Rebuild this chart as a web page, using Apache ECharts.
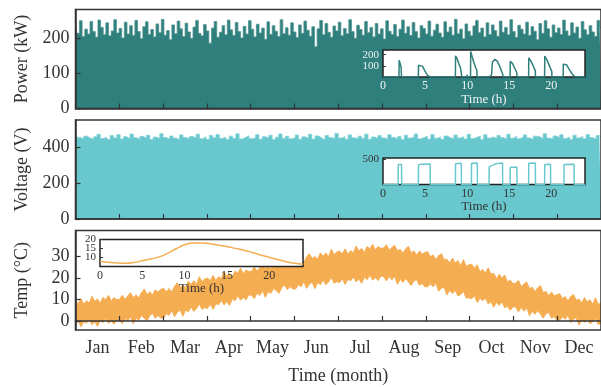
<!DOCTYPE html>
<html>
<head>
<meta charset="utf-8">
<script src="https://cdn.jsdelivr.net/npm/echarts@6/dist/echarts.min.js"></script>
<style>
  html, body { margin: 0; padding: 0; background: #fff; }
  #chart { width: 601px; height: 387px; }
</style>
</head>
<body>
<div id="chart"></div>
<script>
// ---- data -------------------------------------------------------------
const months = ['Jan','Feb','Mar','Apr','May','Jun','Jul','Aug','Sep','Oct','Nov','Dec'];

// yearly charging power, peak per sample (kW)
const powerKw = [
  238,214,250,205,226,212,248,219,203,252,231,210,244,207,221,253,215,228,201,246,
  212,236,208,251,219,199,233,247,211,225,204,241,216,254,209,222,196,238,213,249,
  227,205,243,218,200,232,251,214,207,239,221,186,229,248,203,217,236,210,252,224,
  208,245,219,201,234,212,250,226,204,240,215,229,197,247,211,236,220,205,253,213,
  230,209,244,218,202,238,214,249,223,206,233,176,227,251,210,242,217,203,235,221,
  246,207,228,213,253,219,200,237,225,209,248,216,231,204,242,212,227,198,250,220,
  211,239,205,226,252,214,233,208,245,219,201,236,228,212,249,206,223,240,215,203,
  247,218,232,209,254,213,226,199,241,220,207,235,251,216,229,204,244,211,238,222,
  206,249,217,231,210,253,219,202,237,226,212,246,208,233,220,196,242,214,250,227,
  203,238,216,229,211,252,221,207,244,215,232,200,248,224,210,236,218,205,251,230
];

// yearly charging voltage, peak per sample (V)
const voltageV = [
  468,455,447,462,451,444,458,472,449,456,443,465,452,470,446,459,448,474,453,445,
  461,450,467,443,457,449,476,454,446,463,451,442,469,455,448,460,452,473,447,458,
  444,466,453,471,449,457,443,462,450,475,446,455,464,448,452,470,445,459,451,467,
  443,456,474,449,461,447,453,468,444,458,450,472,446,463,452,441,466,454,448,477,
  451,459,445,469,453,447,462,450,473,444,457,449,465,452,446,470,455,448,460,443,
  467,451,456,474,447,454,461,445,471,450,458,444,463,453,447,468,452,459,446,472,
  449,455,464,443,470,451,457,448,466,454,445,473,450,461,447,456,469,452,444,462,
  458,448,475,451,446,463,453,470,449,457,444,467,452,460,447,471,454,445,465,456
];

// ambient temperature, upper swing per sample (°C), 16 samples a month
const tempHigh = [
  9.3,8.0,10.3,7.7,9.3,8.3,11.4,9.0,10.2,8.2,10.9,9.8,11.9,9.2,10.8,9.8,
  10.0,11.9,9.9,11.6,13.1,10.8,12.1,10.7,13.2,14.8,12.1,13.5,12.0,14.4,13.3,14.6,
  15.1,13.4,15.0,13.4,16.1,17.6,15.5,16.5,15.4,18.4,16.9,18.6,17.0,20.5,18.1,19.5,
  19.8,18.7,21.1,18.7,20.5,19.6,22.9,20.7,22.0,20.2,23.1,22.1,24.4,21.9,23.6,22.8,
  23.0,25.0,23.0,24.8,26.4,24.2,25.5,24.2,26.8,28.5,25.9,27.3,25.9,28.4,27.4,28.7,
  29.1,27.3,28.8,27.1,29.7,31.1,28.9,29.8,28.6,31.5,29.9,31.5,29.8,33.2,30.7,32.0,
  32.3,31.1,33.4,30.9,32.5,31.5,34.7,32.4,33.6,31.7,34.5,33.4,35.5,32.9,34.5,33.6,
  33.8,35.3,32.8,34.0,35.1,32.4,33.2,31.4,33.4,34.6,31.5,32.4,30.5,32.4,30.9,31.7,
  32.1,29.7,30.6,28.3,30.3,31.1,28.3,28.6,26.8,29.1,26.9,27.9,25.6,28.4,25.3,26.0,
  26.3,24.4,26.0,22.8,23.8,22.1,24.6,21.6,22.1,19.5,21.6,19.8,21.3,18.0,18.9,17.3,
  17.5,18.8,16.0,17.1,18.0,15.0,15.6,13.6,15.4,16.4,13.1,13.7,11.6,13.4,11.6,12.2,
  12.6,10.4,11.3,9.2,11.4,12.2,9.6,10.1,8.3,10.8,8.8,9.8,7.7,10.7,7.6,8.5
];

// ambient temperature, lower swing per sample (°C), 16 samples a month
const tempLow = [
  -1.7,0.1,-2.7,-0.3,-1.0,0.6,-1.7,-0.3,-2.5,0.4,-0.8,1.3,-1.1,0.0,-1.5,0.6,
  0.4,-1.3,1.2,-0.1,2.1,-1.3,1.3,0.4,2.5,1.3,0.0,2.5,3.5,1.3,2.5,1.3,
  1.3,3.4,2.6,5.0,2.0,4.0,5.1,2.2,5.1,4.2,6.5,4.4,5.8,7.9,5.4,6.2,
  5.8,7.8,5.4,8.0,7.5,9.5,7.4,9.0,7.2,10.3,9.3,11.8,9.6,10.9,9.8,12.1,
  11.9,10.3,13.0,11.8,14.1,10.9,13.6,12.8,15.1,14.0,12.8,15.5,16.6,14.5,15.9,14.8,
  14.8,16.8,15.9,18.2,15.1,17.0,18.0,15.0,17.8,16.8,19.0,16.8,18.1,20.1,17.5,18.2,
  17.8,19.6,16.9,19.3,18.6,20.4,18.1,19.5,17.4,20.3,19.1,21.3,18.9,20.1,18.7,20.8,
  20.6,18.5,20.7,19.0,20.8,17.0,19.2,17.9,19.7,18.1,16.4,18.6,19.1,16.5,17.4,15.8,
  15.8,17.2,15.8,17.5,13.8,15.2,15.6,12.0,14.3,12.7,14.3,11.6,12.3,13.7,10.6,10.7,
  10.3,11.7,8.5,10.5,9.4,10.6,7.9,8.9,6.3,8.8,7.2,8.9,6.1,6.8,4.9,6.6,
  6.4,4.2,6.3,4.5,6.2,2.4,4.5,3.1,4.8,3.1,1.3,3.4,3.9,1.2,2.0,0.3,
  0.3,1.9,0.8,2.7,-0.8,0.9,1.5,-1.9,0.7,-0.7,1.1,-1.3,-0.4,1.2,-1.6,-1.3
];

// one day of charging sessions: [hour, kW]
const dayPowerKw = [
  [0,0],[1.9,0],[1.92,150],[2.05,140],[2.15,90],[2.2,0],
  [4.2,0],[4.22,105],[4.45,112],[4.7,95],[5.0,50],[5.3,15],[5.6,0],
  [8.6,0],[8.62,190],[8.8,165],[9.0,120],[9.2,85],[9.35,75],[9.37,0],
  [9.95,0],[10.0,18],[10.05,0],
  [10.4,0],[10.42,228],[10.6,180],[10.8,130],[11.0,85],[11.15,60],[11.17,0],
  [12.6,0],[12.62,15],[12.9,20],[13.0,135],[13.3,158],[13.6,140],[13.9,90],[14.2,30],[14.3,0],
  [15.1,0],[15.12,140],[15.4,120],[15.7,70],[15.9,40],[15.92,0],
  [17.3,0],[17.32,172],[17.6,140],[17.9,90],[18.1,55],[18.12,0],
  [19.2,0],[19.22,188],[19.5,150],[19.8,95],[20.05,50],[20.07,0],
  [21.4,0],[21.42,115],[21.8,110],[22.1,70],[22.5,25],[22.8,5],[24,0]
];

// one day of charging voltage: [hour, V]
const dayVoltageV = [
  [0,0],[1.8,0],[1.82,395],[2.2,395],[2.22,0],
  [4.2,0],[4.22,390],[4.5,402],[5.6,405],[5.62,0],
  [8.6,0],[8.62,410],[9.3,420],[9.32,0],
  [10.5,0],[10.52,420],[11.2,427],[11.22,0],
  [12.6,0],[12.62,350],[13.4,410],[14.2,427],[14.22,0],
  [15.1,0],[15.12,335],[15.9,345],[15.92,0],
  [17.3,0],[17.32,420],[18.1,427],[18.12,0],
  [19.2,0],[19.22,395],[19.9,402],[19.92,0],
  [21.5,0],[21.52,395],[22.7,402],[22.72,0],[24,0]
];

// one day of ambient temperature: [hour, °C]
const dayTempC = [
  [0,7.6],[1,7.2],[2,6.8],[3,6.6],[4,7.0],[5,8.0],[6,9.0],[7,10.2],[8,12.2],
  [9,14.8],[10,17.0],[11,18.1],[12,18.1],[13,17.6],[14,16.8],[15,16.0],[16,15.0],
  [17,14.0],[18,12.7],[19,11.3],[20,10.0],[21,8.7],[22,7.5],[23,6.6],[24,6.1]
];

// ---- styling ----------------------------------------------------------
const FONT = "'Liberation Serif', 'Times New Roman', serif";
const INK = '#333333';
const TEAL = '#2f7f7c';
const CYAN = '#68c8ce';
const ORANGE = '#f5ad52';

// sample positions along the month axis (0..12)
const onYear = (arr) => arr.map((v, i) => [i * 12 / (arr.length - 1), v]);

const monthTicks = [1,2,3,4,5,6,7,8,9,10,11];
const monthMid = months.map((m, i) => i + 0.5);

function mainX(gridIndex, withLabels) {
  return {
    type: 'value', gridIndex, min: 0, max: 12, z: 4,
    axisLine: { show: true, lineStyle: { color: INK, width: 1.5 } },
    axisTick: { show: true, inside: true, length: 5, customValues: monthTicks,
                lineStyle: { color: INK, width: 1.2 } },
    splitLine: { show: false },
    axisLabel: withLabels ? {
      show: true, customValues: monthMid, margin: 9,
      fontFamily: FONT, fontSize: 18, color: INK,
      formatter: (v) => months[Math.round(v - 0.5)]
    } : { show: false },
    name: withLabels ? 'Time (month)' : '',
    nameLocation: 'middle', nameGap: 37,
    nameTextStyle: { fontFamily: FONT, fontSize: 18, color: INK }
  };
}

function mainY(gridIndex, name, min, max, ticks) {
  return {
    type: 'value', gridIndex, min, max, z: 4,
    axisLine: { show: true, lineStyle: { color: INK, width: 1.5 } },
    axisTick: { show: true, inside: true, length: 5, customValues: ticks,
                lineStyle: { color: INK, width: 1.2 } },
    splitLine: { show: false },
    axisLabel: { customValues: ticks, margin: 6, fontFamily: FONT, fontSize: 18, color: INK },
    name, nameLocation: 'middle', nameGap: 44, nameRotate: 90,
    nameTextStyle: { fontFamily: FONT, fontSize: 18, color: INK }
  };
}

function insetX(gridIndex, color) {
  return {
    type: 'value', gridIndex, min: 0, max: 24, z: 7,
    axisLine: { show: false },
    axisTick: { show: false },
    splitLine: { show: false },
    axisLabel: { customValues: [0,5,10,15,20], margin: 3, fontFamily: FONT, fontSize: 12, color },
    name: 'Time (h)', nameLocation: 'middle', nameGap: 14,
    nameTextStyle: { fontFamily: FONT, fontSize: 13, color }
  };
}

function insetY(gridIndex, min, max, ticks, color) {
  return {
    type: 'value', gridIndex, min, max, z: 7,
    axisLine: { show: false },
    axisTick: { show: true, inside: true, length: 3, customValues: ticks,
                lineStyle: { color: INK, width: 1 } },
    splitLine: { show: false },
    axisLabel: { customValues: ticks, margin: 4, fontFamily: FONT, fontSize: 11, color,
                 lineHeight: 7, hideOverlap: false, showMinLabel: true, showMaxLabel: true }
  };
}

const mainGrid = (top, height) => ({
  left: 75.5, top, width: 527, height, z: 3, show: true,
  backgroundColor: 'transparent', borderColor: INK, borderWidth: 1.5
});
const insetGrid = (left, top, width, height) => ({
  left, top, width, height, z: 5, show: true,
  backgroundColor: '#ffffff', borderColor: '#222', borderWidth: 1.5
});

const option = {
  animation: false,
  backgroundColor: '#ffffff',
  textStyle: { fontFamily: FONT },
  grid: [
    mainGrid(9.5, 99),
    mainGrid(120, 99),
    mainGrid(230.5, 99.5),
    insetGrid(383, 50, 202, 27),
    insetGrid(383, 158, 202, 26.5),
    insetGrid(100, 239.5, 203, 27)
  ],
  xAxis: [
    mainX(0, false), mainX(1, false), mainX(2, true),
    insetX(3, '#eef5f4'), insetX(4, INK), insetX(5, INK)
  ],
  yAxis: [
    mainY(0, 'Power (kW)', 0, 282, [0,100,200]),
    mainY(1, 'Voltage (V)', 0, 552, [0,200,400]),
    mainY(2, 'Temp (°C)', -4.2, 41.9, [0,10,20,30]),
    insetY(3, 0, 242, [100,200], '#eef5f4'),
    insetY(4, 0, 526, [500], INK),
    insetY(5, 4.8, 20, [10,20], INK),
    // middle label of the temperature inset sits on its own axis so it is not dropped
    Object.assign(insetY(5, 4.8, 20, [15], INK), { position: 'left', offset: 0 })
  ],
  series: [
    {
      type: 'line', xAxisIndex: 0, yAxisIndex: 0, z: 1,
      data: onYear(powerKw), symbol: 'none', step: 'middle',
      lineStyle: { color: '#4f9492', width: 0.8 },
      areaStyle: { color: TEAL, opacity: 1 }
    },
    {
      type: 'line', xAxisIndex: 1, yAxisIndex: 1, z: 1,
      data: onYear(voltageV), symbol: 'none', step: 'middle',
      lineStyle: { color: '#7fd2d7', width: 0.8 },
      areaStyle: { color: CYAN, opacity: 1 }
    },
    // temperature band: orange down from the upper swing, white below the lower swing
    {
      type: 'line', xAxisIndex: 2, yAxisIndex: 2, z: 1,
      data: onYear(tempHigh), symbol: 'none',
      lineStyle: { color: ORANGE, width: 1 },
      areaStyle: { color: ORANGE, opacity: 1, origin: 'start' }
    },
    {
      type: 'line', xAxisIndex: 2, yAxisIndex: 2, z: 1,
      data: onYear(tempLow), symbol: 'none',
      lineStyle: { color: ORANGE, width: 1 },
      areaStyle: { color: '#ffffff', opacity: 1, origin: 'start' }
    },
    {
      type: 'line', xAxisIndex: 3, yAxisIndex: 3, z: 6,
      data: dayPowerKw, symbol: 'none',
      lineStyle: { color: TEAL, width: 1.5 }
    },
    {
      type: 'line', xAxisIndex: 4, yAxisIndex: 4, z: 6,
      data: dayVoltageV, symbol: 'none',
      lineStyle: { color: CYAN, width: 1.5 }
    },
    {
      type: 'line', xAxisIndex: 5, yAxisIndex: 5, z: 6,
      data: dayTempC, symbol: 'none', smooth: true,
      lineStyle: { color: ORANGE, width: 1.5 }
    }
  ]
};

const chart = echarts.init(document.getElementById('chart'), null, { renderer: 'canvas' });
chart.setOption(option);
</script>
</body>
</html>
